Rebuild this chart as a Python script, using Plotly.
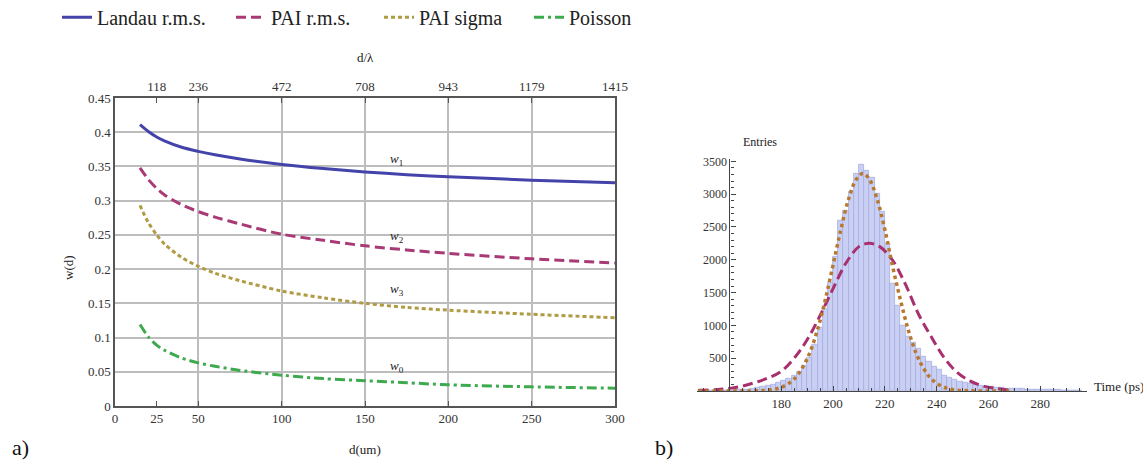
import plotly.graph_objects as go

W, H = 1143, 466

# ---- panel a: fluctuation width vs. thickness ----
d_um = [15, 20, 25, 30, 40, 50, 60, 75, 100, 125, 150, 175, 200, 250, 300]
landau_rms = [0.411, 0.401, 0.393, 0.387, 0.378, 0.372, 0.367, 0.361, 0.353, 0.347, 0.342, 0.338, 0.335, 0.330, 0.326]
pai_rms = [0.348, 0.331, 0.318, 0.308, 0.294, 0.284, 0.276, 0.266, 0.251, 0.242, 0.234, 0.228, 0.223, 0.215, 0.209]
pai_sigma = [0.293, 0.268, 0.250, 0.236, 0.217, 0.204, 0.194, 0.183, 0.168, 0.158, 0.150, 0.144, 0.140, 0.134, 0.129]
poisson = [0.119, 0.101, 0.089, 0.081, 0.070, 0.063, 0.058, 0.052, 0.045, 0.040, 0.037, 0.034, 0.031, 0.028, 0.026]

x_ticks = [0, 25, 50, 100, 150, 200, 250, 300]
top_ticks = [25, 50, 100, 150, 200, 250, 300]
top_labels = ["118", "236", "472", "708", "943", "1179", "1415"]
grid_x = [50, 100, 150, 200, 250]
y_ticks = [0, 0.05, 0.1, 0.15, 0.2, 0.25, 0.3, 0.35, 0.4, 0.45]
y_labels = ["0", "0.05", "0.1", "0.15", "0.2", "0.25", "0.3", "0.35", "0.4", "0.45"]

curve_labels = ["<i>w</i><sub>1</sub>", "<i>w</i><sub>2</sub>", "<i>w</i><sub>3</sub>", "<i>w</i><sub>0</sub>"]
label_x = [169, 169, 169, 169]
label_y = [0.360, 0.248, 0.170, 0.0575]

# ---- panel b: time histogram ----
bin_centers = list(range(149, 297, 2))
entries = [2, 3, 4, 5, 7, 9, 12, 15, 20, 26, 34, 45, 58, 75, 95, 120, 150, 190, 240, 300,
           380, 500, 700, 960, 1250, 1650, 2040, 2600, 2750, 3030, 3307, 3450, 3360, 3257, 3005,
           2725, 2250, 1640, 1300, 1000, 820, 730, 650, 520, 445, 370, 320, 240, 210, 165,
           140, 120, 105, 90, 80, 70, 62, 55, 48, 42, 37, 33, 30, 27, 24, 22, 20, 18, 16,
           14, 12, 11, 9, 8]

wide_t = [148, 155, 160, 165, 170, 175, 180, 185, 190, 195, 200, 205, 210, 214, 218, 223,
          228, 233, 238, 243, 248, 253, 258, 263, 268]
wide_fit = [10, 20, 40, 75, 130, 200, 300, 500, 780, 1150, 1560, 1950, 2200, 2250, 2200, 1990,
            1620, 1170, 820, 500, 280, 150, 75, 40, 15]

narrow_t = [148, 160, 170, 175, 180, 185, 190, 194, 197, 200, 203, 206, 209, 211.5, 214, 217,
            220, 223, 226, 229, 232, 235, 238, 242, 246, 252, 260, 268]
narrow_fit = [0, 1, 3, 14, 55, 182, 490, 934, 1390, 1918, 2458, 2925, 3228, 3315, 3228, 2925,
              2458, 1897, 1390, 934, 583, 339, 182, 71, 24, 4, 1, 0]

hist_x_ticks = [180, 200, 220, 240, 260, 280]
hist_y_ticks = [500, 1000, 1500, 2000, 2500, 3000, 3500]

SERIF = "Liberation Serif, Times New Roman, DejaVu Serif, serif"
C_LANDAU = "#4343aa"
C_PAIRMS = "#a83a76"
C_PAISIG = "#b09a42"
C_POIS = "#3eaa4e"


def px_x(p):
    return p / W


def px_y(p):
    return 1 - p / H


fig = go.Figure()

series = [
    ("Landau r.m.s.", landau_rms, C_LANDAU, "solid", "legend"),
    ("PAI r.m.s.", pai_rms, C_PAIRMS, "10px,5px", "legend2"),
    ("PAI sigma", pai_sigma, C_PAISIG, "4px,3px", "legend3"),
    ("Poisson", poisson, C_POIS, "10px,4px,3px,4px", "legend4"),
]
for name, vals, col, dash, leg in series:
    fig.add_trace(go.Scatter(x=d_um, y=vals, name=name, mode="lines", legend=leg,
                             line=dict(color=col, width=3, dash=dash,
                                       shape="spline", smoothing=0.8)))

# helper traces so the overlay axes (top scale, vertical grid) are drawn
fig.add_trace(go.Scatter(x=[0, 300], y=[0, 0], xaxis="x3", yaxis="y", mode="lines",
                         line=dict(width=0), hoverinfo="skip", showlegend=False))
fig.add_trace(go.Scatter(x=[0, 300], y=[0, 0], xaxis="x4", yaxis="y", mode="lines",
                         line=dict(width=0), hoverinfo="skip", showlegend=False))

for txt, lx, ly in zip(curve_labels, label_x, label_y):
    fig.add_annotation(x=lx, y=ly, xref="x", yref="y", text=txt, showarrow=False,
                       font=dict(family=SERIF, size=13, color="#222"))

fig.add_trace(go.Bar(x=bin_centers, y=entries, width=2, xaxis="x2", yaxis="y2",
                     marker=dict(color="rgba(196,203,243,0.9)",
                                 line=dict(color="#a6aee0", width=0.8)),
                     showlegend=False))
fig.add_trace(go.Scatter(x=wide_t, y=wide_fit, xaxis="x2", yaxis="y2", mode="lines",
                         line=dict(color="#a8306e", width=3, dash="10px,5px", shape="spline"),
                         showlegend=False))
fig.add_trace(go.Scatter(x=narrow_t, y=narrow_fit, xaxis="x2", yaxis="y2", mode="lines",
                         line=dict(color="#b8782f", width=3.5, dash="dot", shape="spline"),
                         showlegend=False))

tickfont = dict(family=SERIF, size=13, color="#333")
axcol = "#555"
x_dom = [px_x(115), px_x(615)]
y_dom = [px_y(406), px_y(98)]


def legend_at(xpix):
    return dict(orientation="h", x=px_x(xpix), y=1.005, xanchor="left", yanchor="top",
                font=dict(family=SERIF, size=20, color="#222"), bgcolor="rgba(0,0,0,0)")


fig.update_layout(
    width=W, height=H,
    margin=dict(l=0, r=0, t=0, b=0, autoexpand=False),
    paper_bgcolor="white", plot_bgcolor="rgba(0,0,0,0)",
    font=dict(family=SERIF, color="#222"),
    bargap=0,
    showlegend=True,
    legend=legend_at(57),
    legend2=legend_at(231),
    legend3=legend_at(379),
    legend4=legend_at(529),
    xaxis=dict(domain=x_dom, range=[0, 300], tickvals=x_ticks, ticks="inside", ticklen=5,
               tickcolor=axcol, showline=True, linecolor=axcol, linewidth=1.5, showgrid=False,
               zeroline=False, tickfont=tickfont, anchor="y", automargin=False),
    xaxis3=dict(domain=x_dom, range=[0, 300], overlaying="x", side="top", anchor="y",
                tickvals=top_ticks, ticktext=top_labels, ticks="inside", ticklen=5,
                tickcolor=axcol, showline=True, linecolor=axcol, linewidth=1.5, showgrid=False,
                zeroline=False, tickfont=tickfont, automargin=False),
    xaxis4=dict(domain=x_dom, range=[0, 300], overlaying="x", anchor="y", tickvals=grid_x,
                showticklabels=False, ticks="", showgrid=True, gridcolor="#bdbdbd", gridwidth=1.5,
                showline=False, zeroline=False, automargin=False),
    yaxis=dict(domain=y_dom, range=[0, 0.45], tickvals=y_ticks, ticktext=y_labels,
               showgrid=True, gridcolor="#bdbdbd", gridwidth=1.5, ticks="", showline=True,
               mirror=True, linecolor=axcol, linewidth=1.5, zeroline=False, tickfont=tickfont,
               anchor="x", automargin=False),
    xaxis2=dict(domain=[px_x(697), px_x(1087)], range=[147.5, 298], anchor="y2",
                tickvals=hist_x_ticks, ticks="inside", ticklen=5, tickcolor="#444",
                minor=dict(dtick=5, tick0=0, ticks="inside", ticklen=3, tickcolor="#444"),
                showline=True, linecolor="#444", linewidth=1.2, showgrid=False, zeroline=False,
                tickfont=tickfont, automargin=False),
    yaxis2=dict(domain=[px_y(391), px_y(158.7)], range=[0, 3540], anchor="free",
                position=px_x(729.4), tickvals=hist_y_ticks, ticks="inside", ticklen=5,
                tickcolor="#444",
                minor=dict(dtick=100, tick0=0, ticks="inside", ticklen=3, tickcolor="#444"),
                showline=True, linecolor="#444", linewidth=1.2, showgrid=False, zeroline=False,
                tickfont=dict(family=SERIF, size=12, color="#333"), automargin=False),
)


def label(xpix, ypix, text, size=13, anchor="center", angle=0, color="#222"):
    fig.add_annotation(x=px_x(xpix), y=px_y(ypix), xref="paper", yref="paper", text=text,
                       xanchor=anchor, yanchor="middle", textangle=angle, showarrow=False,
                       font=dict(family=SERIF, size=size, color=color))


# axis titles and panel tags
label(365, 449, "d(um)")
label(365, 58, "d/λ")
label(68, 268, "w(d)", angle=-90)
label(760, 142, "Entries", size=12)
label(1092, 386, "Time (ps)", anchor="left")
label(10, 447, "a)", size=22, anchor="left", color="#111")
label(653, 447, "b)", size=22, anchor="left", color="#111")

fig.write_html("out.html")
